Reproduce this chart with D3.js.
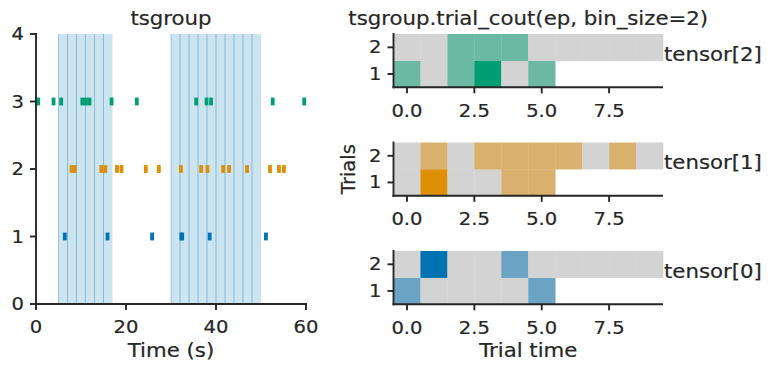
<!DOCTYPE html>
<html><head><meta charset="utf-8">
<script src="https://cdn.jsdelivr.net/npm/d3@7"></script>
<style>
html,body{margin:0;padding:0;background:#fff;}
svg{display:block;font-family:"DejaVu Sans",sans-serif;}
</style></head>
<body><svg id="c" width="773" height="373"></svg>
<script>
// ---------------- data ----------------
const epochStarts = [5, 30];
const epochEnds = [17, 50];
const binSize = 2;
const spikes0 = [6.4, 15.9, 25.8, 32.3, 32.5, 38.6, 51.1];               // neuron 0 (y=1)
const spikes1 = [7.9, 8.6, 14.5, 15.4, 18.0, 19.0, 24.4, 27.3, 32.2, 36.7, 38.1, 41.6, 42.9, 46.9, 52.0, 54.0, 55.1]; // neuron 1 (y=2)
const spikes2 = [0.5, 3.9, 5.6, 10.3, 11.1, 11.9, 16.8, 22.4, 35.6, 37.9, 38.9, 52.6, 59.6]; // neuron 2 (y=3)
const neuronColors = ["#0173b2", "#de8f05", "#029e73"];
const xTicksLeft = [0, 20, 40, 60];
const yTicksLeft = [0, 1, 2, 3, 4];
// trial counts (tensor[n][trial] per bin)
const counts0 = [[1,0,0,0,0,1], [0,2,0,0,1,0,0,0,0,0]];
const counts1 = [[0,2,0,0,1,1], [0,1,0,1,1,1,1,0,1,0]];
const counts2 = [[1,0,1,2,0,1], [0,0,1,1,1,0,0,0,0,0]];
const trialLabels = [1, 2];
const xTicksRight = [0, 2.5, 5.0, 7.5];
const maxCount = 2;

// ---------------- style ----------------
const ink = "#262626";
const svg = d3.select("#c");
const TICK = {size: 17, sx: 1.15};
const LAB = {size: 19, sx: 1.12};

function txt(g, x, y, s, st, anchor, rot) {
  const t = g.append("text")
    .attr("transform", `translate(${x},${y}) scale(${rot ? 1 : st.sx},1)` + (rot ? ` rotate(${rot})` : ""))
    .attr("font-size", st.size).attr("fill", ink).attr("text-anchor", anchor || "start")
    .attr("stroke", ink).attr("stroke-width", 0.2)
    .text(s);
  return t;
}

// ---------------- left panel ----------------
const L = {x0: 36, x1: 306, y0: 34, y1: 304};
const xL = d3.scaleLinear().domain([0, 60]).range([L.x0, L.x1]);
const yL = d3.scaleLinear().domain([0, 4]).range([L.y1, L.y0]);
const gl = svg.append("g");

epochStarts.forEach((s, i) => {
  gl.append("rect").attr("x", xL(s)).attr("y", L.y0)
    .attr("width", xL(epochEnds[i]) - xL(s)).attr("height", L.y1 - L.y0)
    .attr("fill", "#0173b2").attr("fill-opacity", 0.2);
  for (let b = s; b < epochEnds[i] - 1e-9; b += binSize) {
    gl.append("line").attr("x1", xL(b)).attr("x2", xL(b))
      .attr("y1", L.y0).attr("y2", L.y1)
      .attr("stroke", "#0173b2").attr("stroke-opacity", 0.35).attr("stroke-width", 1);
  }
});

[spikes0, spikes1, spikes2].forEach((arr, n) => {
  gl.selectAll(null).data(arr).enter().append("rect")
    .attr("x", d => xL(d) - 1.9).attr("y", yL(n + 1) - 3.9)
    .attr("width", 3.8).attr("height", 7.8)
    .attr("fill", neuronColors[n]);
});

// axes
gl.append("line").attr("x1", L.x0).attr("x2", L.x0).attr("y1", L.y0 - 1).attr("y2", L.y1 + 1)
  .attr("stroke", ink).attr("stroke-width", 1.9);
gl.append("line").attr("x1", L.x0 - 1).attr("x2", L.x1 + 1).attr("y1", L.y1).attr("y2", L.y1)
  .attr("stroke", ink).attr("stroke-width", 1.9);
xTicksLeft.forEach(t => {
  gl.append("line").attr("x1", xL(t)).attr("x2", xL(t)).attr("y1", L.y1).attr("y2", L.y1 + 6)
    .attr("stroke", ink).attr("stroke-width", 1.9);
  txt(gl, xL(t), L.y1 + 29, String(t), TICK, "middle");
});
yTicksLeft.forEach(t => {
  gl.append("line").attr("x1", L.x0 - 6).attr("x2", L.x0).attr("y1", yL(t)).attr("y2", yL(t))
    .attr("stroke", ink).attr("stroke-width", 1.9);
  txt(gl, L.x0 - 12, yL(t) + 6, String(t), TICK, "end");
});
txt(gl, (L.x0 + L.x1) / 2, 24.5, "tsgroup", LAB, "middle");
txt(gl, (L.x0 + L.x1) / 2, 356.5, "Time (s)", LAB, "middle");

// ---------------- right panels ----------------
const R = {x0: 393.5, x1: 663};
const xR = d3.scaleLinear().domain([-0.5, 9.5]).range([R.x0, R.x1]);
const panelTops = [34, 142.5, 251];
const panelH = 53.3;
const panels = [
  {counts: counts2, color: neuronColors[2], label: "tensor[2]"},
  {counts: counts1, color: neuronColors[1], label: "tensor[1]"},
  {counts: counts0, color: neuronColors[0], label: "tensor[0]"}
];

panels.forEach((p, k) => {
  const top = panelTops[k], bot = top + panelH;
  const yR = d3.scaleLinear().domain([0.5, 2.5]).range([bot, top]);
  const col = d3.scaleLinear().domain([0, maxCount]).range(["#d3d3d3", p.color]).interpolate(d3.interpolateRgb);
  const g = svg.append("g");
  p.counts.forEach((row, ti) => {
    const tr = trialLabels[ti];
    g.selectAll(null).data(row).enter().append("rect")
      .attr("x", (d, i) => xR(i - 0.5)).attr("width", (d, i) => xR(i + 0.5) - xR(i - 0.5) + 0.3)
      .attr("y", yR(tr + 0.5)).attr("height", yR(tr - 0.5) - yR(tr + 0.5) + 0.3)
      .attr("fill", d => col(d));
  });
  g.append("line").attr("x1", R.x0).attr("x2", R.x0).attr("y1", top - 1).attr("y2", bot + 1)
    .attr("stroke", ink).attr("stroke-width", 1.9);
  g.append("line").attr("x1", R.x0 - 1).attr("x2", R.x1).attr("y1", bot).attr("y2", bot)
    .attr("stroke", ink).attr("stroke-width", 1.9);
  xTicksRight.forEach(t => {
    g.append("line").attr("x1", xR(t)).attr("x2", xR(t)).attr("y1", bot).attr("y2", bot + 6)
      .attr("stroke", ink).attr("stroke-width", 1.9);
    txt(g, xR(t), bot + 29.3, t.toFixed(1), TICK, "middle");
  });
  trialLabels.forEach(t => {
    g.append("line").attr("x1", R.x0 - 6).attr("x2", R.x0).attr("y1", yR(t)).attr("y2", yR(t))
      .attr("stroke", ink).attr("stroke-width", 1.9);
    txt(g, R.x0 - 12, yR(t) + 6, String(t), TICK, "end");
  });
  txt(g, R.x1 + 1, (top + bot) / 2, p.label, LAB, "start");
});

txt(svg, (R.x0 + R.x1) / 2, 24.5, "tsgroup.trial_cout(ep, bin_size=2)", LAB, "middle");
txt(svg, (R.x0 + R.x1) / 2, 356.5, "Trial time", LAB, "middle");
txt(svg, 355, (panelTops[1] + panelTops[1] + panelH) / 2, "Trials", {size: 19.5, sx: 1}, "middle", -90);
</script></body></html>
